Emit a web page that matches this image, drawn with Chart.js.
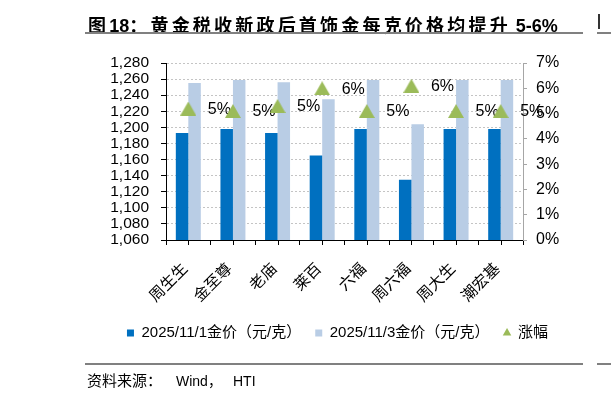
<!DOCTYPE html>
<html>
<head>
<meta charset="utf-8">
<script src="https://cdn.jsdelivr.net/npm/chart.js@4/dist/chart.umd.min.js"></script>
<style>
  body { margin: 0; width: 611px; height: 398px; background: #fff; position: relative; overflow: hidden; }
  #chart { position: absolute; left: 0; top: 0; }
  .txt { position: absolute; white-space: nowrap; color: #000; }
  #title { left: 88px; top: 11px; line-height: 22px; font: bold 18px "Liberation Sans", "Noto Sans CJK SC", sans-serif; }
  #title .cj { letter-spacing: 3.2px; }
  #source { left: 87px; top: 369px; line-height: 18px; font: 14px "Liberation Sans", "Noto Sans CJK SC", sans-serif; }
  #source span { display: inline-block; }
  .rule { position: absolute; height: 2px; background: #808080; }
</style>
</head>
<body>
<canvas id="chart" width="611" height="398"></canvas>
<div class="txt" id="title"><span class="cj">图</span>18<span class="cj">：黄金税收新政后首饰金每克价格均提升</span> 5-6%</div>
<div class="rule" style="left:85px; top:32px; width:498px;"></div>
<div class="rule" style="left:597px; top:32px; width:14px;"></div>
<div class="rule" style="left:598px; top:14px; width:2px; height:15px; background:#333;"></div>
<div class="rule" style="left:85px; top:363px; width:498px; height:1.5px;"></div>
<div class="rule" style="left:597px; top:363px; width:14px; height:1.5px;"></div>
<div class="txt" id="source"><span style="width:89px; font-size:15px;">资料来源：</span><span style="width:57px;">Wind，</span><span>HTI</span></div>
<script>
// chart data
const categories = ['周生生', '金至尊', '老庙', '莱百', '六福', '周六福', '周大生', '潮宏基'];
const priceNov1 = [1193, 1198, 1193, 1165, 1198, 1135, 1198, 1198];
const priceNov3 = [1255, 1259, 1256, 1235, 1259, 1204, 1259, 1259];
const riseRate = [5.2, 5.1, 5.3, 6.0, 5.1, 6.1, 5.1, 5.1];
const priceTicks = [1060, 1080, 1100, 1120, 1140, 1160, 1180, 1200, 1220, 1240, 1260, 1280];
const rateTicks = [0, 1, 2, 3, 4, 5, 6, 7];
const seriesNames = ['2025/11/1金价（元/克）', '2025/11/3金价（元/克）', '涨幅'];

const FONT = '"Liberation Sans", "Noto Sans CJK SC", sans-serif';
Chart.defaults.font.family = FONT;
Chart.defaults.color = '#000';

// triangle marker centred on its box, like the office marker
const tri = document.createElement('canvas');
tri.width = 16; tri.height = 14;
(function () {
  const c = tri.getContext('2d');
  c.fillStyle = '#9BBB59';
  c.beginPath();
  c.moveTo(8, 0); c.lineTo(16, 14); c.lineTo(0, 14);
  c.closePath();
  c.fill();
})();

// percentage labels sit right of the markers, under them
const pointLabels = {
  id: 'pointLabels',
  beforeDatasetDraw(chart, args) {
    if (args.index !== 2) return;
    const ctx = chart.ctx;
    ctx.save();
    ctx.font = '16px ' + FONT;
    ctx.fillStyle = '#000';
    ctx.textAlign = 'left';
    ctx.textBaseline = 'middle';
    args.meta.data.forEach((pt, i) => {
      ctx.fillText(Math.round(riseRate[i]) + '%', pt.x + 19.5, pt.y + 1);
    });
    ctx.restore();
  }
};

// extra tick marks under each category centre
const midTicks = {
  id: 'midTicks',
  afterDraw(chart) {
    const x = chart.scales.x;
    const ctx = chart.ctx;
    ctx.save();
    ctx.strokeStyle = '#000';
    ctx.lineWidth = 1;
    categories.forEach((c, i) => {
      const px = Math.round(x.getPixelForValue(i)) + 0.5;
      ctx.beginPath();
      ctx.moveTo(px, x.top);
      ctx.lineTo(px, x.top + 5);
      ctx.stroke();
    });
    ctx.restore();
  }
};

new Chart(document.getElementById('chart'), {
  type: 'bar',
  data: {
    labels: categories,
    datasets: [
      { label: seriesNames[0], data: priceNov1, backgroundColor: '#0070C0', yAxisID: 'y',
        pointStyle: 'rect', order: 1, categoryPercentage: 0.56, barPercentage: 1 },
      { label: seriesNames[1], data: priceNov3, backgroundColor: '#B9CDE5', yAxisID: 'y',
        pointStyle: 'rect', order: 1, categoryPercentage: 0.56, barPercentage: 1 },
      { type: 'line', label: seriesNames[2], data: riseRate, yAxisID: 'y2', showLine: false,
        pointStyle: tri, pointRadius: 8, backgroundColor: '#9BBB59', borderColor: '#9BBB59', order: 0 }
    ]
  },
  options: {
    responsive: false,
    animation: false,
    devicePixelRatio: 1,
    layout: { padding: { top: 63, left: 90, right: 26, bottom: 47.5 } },
    plugins: {
      tooltip: { enabled: false },
      legend: {
        position: 'bottom',
        labels: {
          usePointStyle: true,
          boxHeight: 7,
          boxWidth: 7,
          padding: 14,
          font: { size: 15 },
          color: '#000',
          sort: (a, b) => a.datasetIndex - b.datasetIndex,
          generateLabels(chart) {
            const items = Chart.defaults.plugins.legend.labels.generateLabels(chart);
            items.forEach(it => {
              if (it.datasetIndex === 2) it.pointStyle = 'triangle';
              it.lineWidth = 0;
            });
            return items;
          }
        }
      }
    },
    scales: {
      x: {
        grid: { offset: true, drawOnChartArea: false, tickLength: 5, tickColor: '#000' },
        border: { color: '#000', width: 1 },
        ticks: { minRotation: 45, maxRotation: 45, autoSkip: false, padding: 15, labelOffset: -3,
                 font: { size: 15.5 }, color: '#000' },
        afterFit(s) { s.height = 71.5; }
      },
      y: {
        position: 'left',
        min: priceTicks[0],
        max: priceTicks[priceTicks.length - 1],
        ticks: { stepSize: priceTicks[1] - priceTicks[0], autoSkip: false, padding: 12,
                 font: { size: 15.5 }, color: '#000' },
        grid: { color: '#c4c4c4', tickColor: '#000', tickLength: 5 },
        border: { color: '#000', width: 1, dash: [2, 2] },
        afterFit(s) { s.width = 76; }
      },
      y2: {
        position: 'right',
        min: rateTicks[0],
        max: rateTicks[rateTicks.length - 1],
        ticks: { stepSize: rateTicks[1] - rateTicks[0], autoSkip: false, padding: 9,
                 font: { size: 16 }, color: '#000', callback: v => v + '%' },
        grid: { drawOnChartArea: false, tickColor: '#a6a6a6', tickLength: 4 },
        border: { color: '#a6a6a6', width: 1 },
        afterFit(s) { s.width = 62; }
      }
    }
  },
  plugins: [pointLabels, midTicks]
});
</script>
</body>
</html>
